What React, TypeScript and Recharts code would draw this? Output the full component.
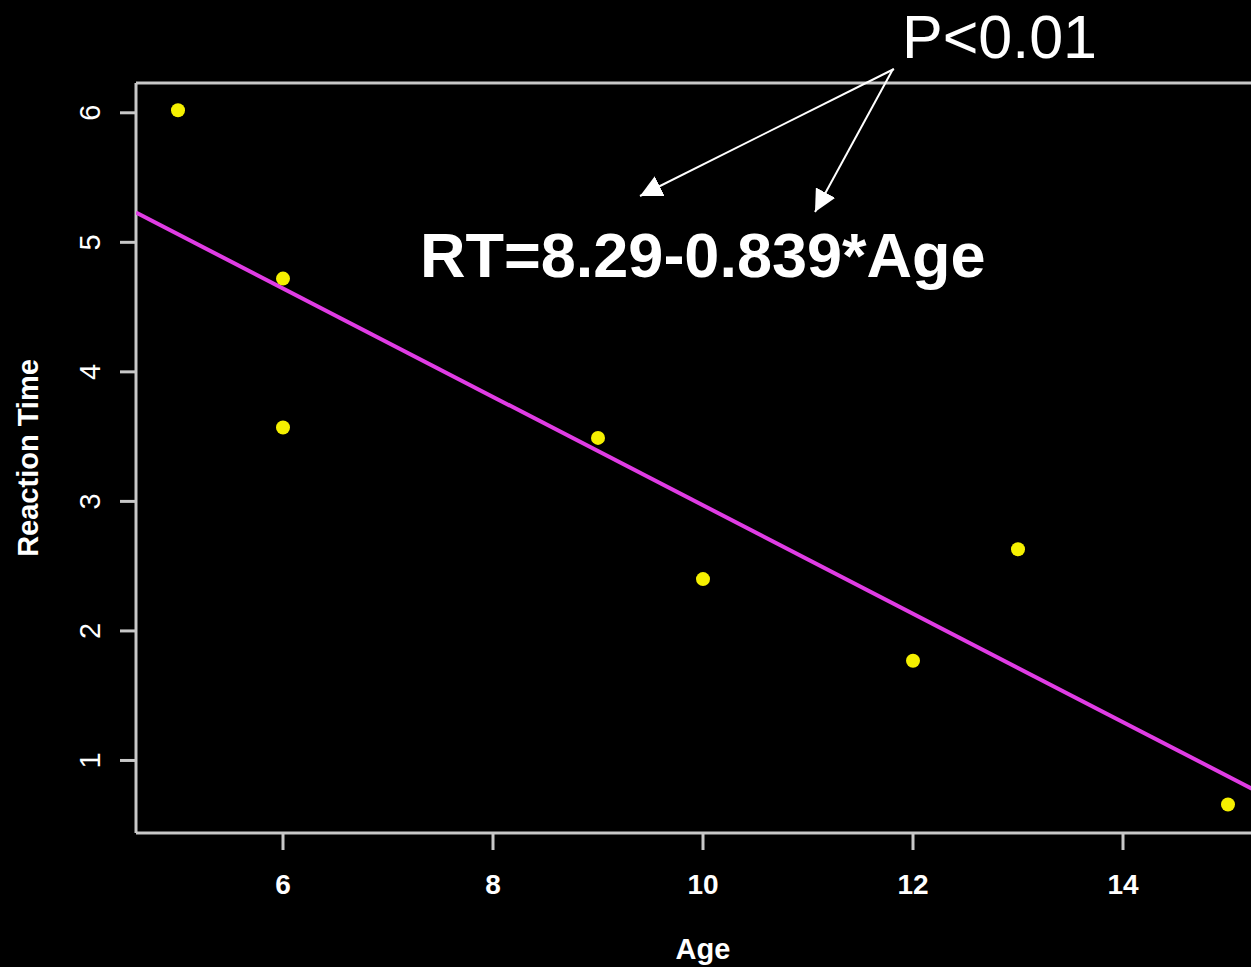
import { ScatterChart, Scatter, XAxis, YAxis, ReferenceLine } from "recharts";

const ages = [5, 6, 6, 9, 10, 12, 13, 15];
const reactionTimes = [6.02, 4.72, 3.57, 3.49, 2.4, 1.77, 2.63, 0.66];
const fitAges = [4.6, 15.4];
const fitTimes = [5.23, 0.71];
const xTicks = [6, 8, 10, 12, 14];
const yTicks = [1, 2, 3, 4, 5, 6];

const points = ages.map((age, i) => ({ age, rt: reactionTimes[i] }));
const fitLine = fitAges.map((age, i) => ({ age, rt: fitTimes[i] }));

const AXIS = "#c8c8c8";
const FONT = "'Liberation Sans', Arial, Helvetica, sans-serif";

const YTick = (props: any) => {
  const { x, y, payload } = props;
  const tx = x - 30;
  return (
    <text
      x={tx}
      y={y}
      transform={`rotate(-90 ${tx} ${y})`}
      textAnchor="middle"
      dominantBaseline="central"
      fill="#fff"
      fontSize={29}
      fontFamily={FONT}
    >
      {payload.value}
    </text>
  );
};

const Dot = (props: any) => <circle cx={props.cx} cy={props.cy} r={7} fill="#f5f000" />;

export default function App() {
  return (
    <div
      style={{
        position: "fixed",
        left: 0,
        top: 0,
        width: 1251,
        height: 967,
        overflow: "hidden",
        background: "#000",
      }}
    >
      <ScatterChart
        width={1280}
        height={967}
        margin={{ top: 83, right: 10, bottom: 0, left: 0 }}
        style={{ fontFamily: FONT }}
      >
        <XAxis
          type="number"
          dataKey="age"
          domain={[4.6, 15.4]}
          ticks={xTicks}
          allowDataOverflow
          height={134}
          stroke={AXIS}
          strokeWidth={3}
          tickSize={17}
          tickMargin={24}
          tick={{ fill: "#fff", fontSize: 28, fontWeight: "bold" }}
          tickLine={{ stroke: AXIS, strokeWidth: 3 }}
          label={{
            value: "Age",
            position: "insideBottom",
            offset: 8,
            fill: "#fff",
            fontSize: 29,
            fontWeight: "bold",
          }}
        />
        <YAxis
          type="number"
          dataKey="rt"
          domain={[0.44, 6.23]}
          ticks={yTicks}
          allowDataOverflow
          width={136}
          stroke={AXIS}
          strokeWidth={3}
          tickSize={16}
          tickMargin={0}
          tick={<YTick />}
          tickLine={{ stroke: AXIS, strokeWidth: 3 }}
          label={{
            value: "Reaction Time",
            angle: -90,
            position: "insideLeft",
            offset: 28,
            fill: "#fff",
            fontSize: 29,
            fontWeight: "bold",
            style: { textAnchor: "middle" },
          }}
        />
        <ReferenceLine y={6.23} stroke={AXIS} strokeWidth={3} />
        <Scatter
          data={fitLine}
          line={{ stroke: "#e03ce4", strokeWidth: 4 }}
          shape={() => null}
          isAnimationActive={false}
        />
        <Scatter data={points} shape={<Dot />} isAnimationActive={false} />
      </ScatterChart>
      <svg
        width={1251}
        height={967}
        style={{ position: "absolute", left: 0, top: 0, pointerEvents: "none" }}
      >
        <defs>
          <marker
            id="head"
            viewBox="0 0 10 10"
            refX="10"
            refY="5"
            markerWidth="22"
            markerHeight="22"
            markerUnits="userSpaceOnUse"
            orient="auto"
          >
            <path d="M0,0 L10,5 L0,10 z" fill="#fff" />
          </marker>
        </defs>
        <text x={902} y={58} fill="#fff" fontSize={61} fontFamily={FONT}>
          P&lt;0.01
        </text>
        <line x1={894} y1={69} x2={640} y2={196} stroke="#fff" strokeWidth={2} markerEnd="url(#head)" />
        <line x1={893} y1={69} x2={815} y2={212} stroke="#fff" strokeWidth={2} markerEnd="url(#head)" />
        <text x={420} y={277} fill="#fff" fontSize={63} fontWeight="bold" fontFamily={FONT}>
          RT=8.29-0.839*Age
        </text>
      </svg>
    </div>
  );
}
